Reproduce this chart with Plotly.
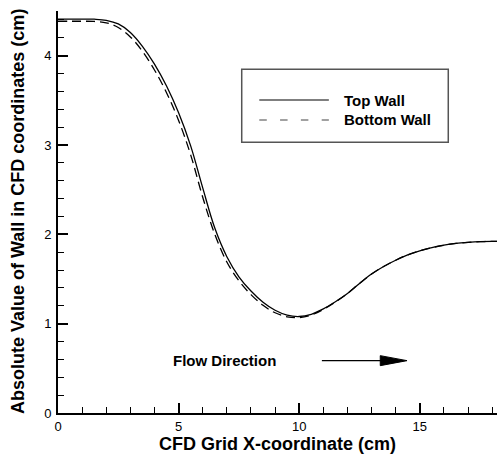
import plotly.graph_objects as go

# ---- data ----
top_x = [0, 0.5, 1.0, 1.5, 2.0, 2.5, 3.0, 3.5, 4.0, 4.5, 5.0, 5.5, 6.0, 6.5, 7.0, 7.5, 8.0,
         8.5, 9.0, 9.5, 10.0, 10.5, 11.0, 11.5, 12.0, 12.5, 13.0, 13.5, 14.0, 14.5, 15.0,
         15.5, 16.0, 16.5, 17.0, 17.5, 18.0, 18.2]
top_y = [4.41, 4.41, 4.41, 4.408, 4.396, 4.355, 4.26, 4.105, 3.905, 3.66, 3.36, 2.99, 2.52, 2.07, 1.75, 1.525, 1.365,
         1.24, 1.15, 1.095, 1.08, 1.105, 1.165, 1.245, 1.338, 1.45, 1.555, 1.64, 1.71, 1.77, 1.815,
         1.85, 1.878, 1.898, 1.91, 1.918, 1.921, 1.921]

bot_x = [0, 0.5, 1.0, 1.5, 2.0, 2.5, 3.0, 3.5, 4.0, 4.5, 5.0, 5.5, 6.0, 6.5, 7.0, 7.5, 8.0,
         8.5, 9.0, 9.5, 10.0, 10.5, 11.0, 11.5, 12.0, 12.5, 13.0, 13.5, 14.0, 14.5, 15.0,
         15.5, 16.0, 16.5, 17.0, 17.5, 18.0, 18.2]
bot_y = [4.385, 4.385, 4.385, 4.383, 4.368, 4.315, 4.21, 4.05, 3.84, 3.585, 3.275, 2.89, 2.415, 2.0, 1.69, 1.48, 1.325,
         1.205, 1.122, 1.077, 1.068, 1.096, 1.16, 1.243, 1.338, 1.45, 1.555, 1.64, 1.71, 1.77, 1.815,
         1.85, 1.878, 1.898, 1.91, 1.918, 1.921, 1.921]

series_names = ["Top Wall", "Bottom Wall"]
x_title = "CFD Grid X-coordinate (cm)"
y_title = "Absolute Value of Wall in CFD coordinates (cm)"
note_text = "Flow Direction"
x_range = [0, 18.2]
y_range = [0, 4.5]

FONT = "Liberation Sans, Arial, sans-serif"

fig = go.Figure()
fig.add_trace(go.Scatter(x=top_x, y=top_y, mode="lines", name=series_names[0],
                         line=dict(color="black", width=1.3, shape="spline", smoothing=1.0),
                         showlegend=False))
fig.add_trace(go.Scatter(x=bot_x, y=bot_y, mode="lines", name=series_names[1],
                         line=dict(color="black", width=1.3, dash="9px,5px", shape="spline", smoothing=1.0),
                         showlegend=False))

axis_common = dict(
    showgrid=False, zeroline=False, showline=True, linecolor="black", linewidth=2,
    ticks="inside", ticklen=10, tickwidth=2, tickcolor="black",
    tickfont=dict(family=FONT, size=13, color="black"),
)

fig.update_xaxes(range=x_range, dtick=5, tick0=0,
                 minor=dict(ticks="inside", dtick=1, ticklen=6, tickwidth=1, tickcolor="black"),
                 title=dict(text=x_title, font=dict(family=FONT, size=18, color="black", weight="bold"),
                            standoff=3),
                 **axis_common)
fig.update_yaxes(range=y_range, dtick=1, tick0=0,
                 minor=dict(ticks="inside", dtick=0.2, ticklen=6, tickwidth=1, tickcolor="black"),
                 ticklabelstandoff=2,
                 **axis_common)

# custom legend box (paper coordinates)
shapes = [
    dict(type="rect", xref="paper", yref="paper", x0=0.4185, x1=0.889, y0=0.6734, y1=0.855,
         line=dict(color="#555555", width=1.5), fillcolor="rgba(0,0,0,0)"),
    dict(type="line", xref="paper", yref="paper", x0=0.4585, x1=0.617, y0=0.7786, y1=0.7786,
         line=dict(color="black", width=1.2)),
    dict(type="line", xref="paper", yref="paper", x0=0.4585, x1=0.617, y0=0.7289, y1=0.7289,
         line=dict(color="#444444", width=1.2, dash="7.5px,13.3px")),
    # flow direction arrow
    dict(type="line", xref="x", yref="y", x0=10.94, x1=13.4, y0=0.586, y1=0.586,
         line=dict(color="black", width=1.3)),
    dict(type="path", xref="x", yref="y", path="M 13.36,0.642 L 14.47,0.586 L 13.36,0.530 Z",
         fillcolor="black", line=dict(color="black", width=1)),
]
annotations = [
    dict(xref="paper", yref="paper", x=0.646, y=0.7786, xanchor="left", yanchor="middle",
         text=series_names[0], showarrow=False, font=dict(family=FONT, size=15, color="black", weight="bold")),
    dict(xref="paper", yref="paper", x=0.646, y=0.7289, xanchor="left", yanchor="middle",
         text=series_names[1], showarrow=False, font=dict(family=FONT, size=15, color="black", weight="bold")),
    dict(xref="x", yref="y", x=6.90, y=0.586, xanchor="center", yanchor="middle",
         text=note_text, showarrow=False, font=dict(family=FONT, size=15, color="black", weight="bold")),
    # y-axis title
    dict(xref="paper", yref="paper", x=-0.0911, y=0.5, xanchor="center", yanchor="middle",
         textangle=-90, text=y_title, showarrow=False,
         font=dict(family=FONT, size=18, color="black", weight="bold")),
]

fig.update_layout(
    width=497, height=455,
    margin=dict(l=58, r=0, t=11, b=42, pad=0),
    paper_bgcolor="white", plot_bgcolor="white",
    shapes=shapes, annotations=annotations,
    showlegend=False,
)

fig.write_html("out.html")
